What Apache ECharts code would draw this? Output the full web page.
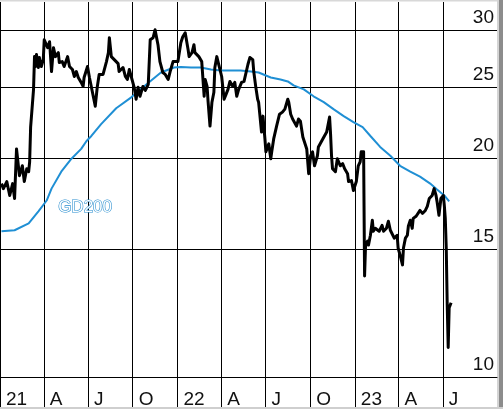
<!DOCTYPE html>
<html>
<head>
<meta charset="utf-8">
<script src="https://cdn.jsdelivr.net/npm/echarts@6/dist/echarts.min.js"></script>
<style>
html,body{margin:0;padding:0;background:#fff;}
#chart{width:503px;height:409px;}
</style>
</head>
<body>
<div id="chart"></div>
<script>
// ---- data (days since 2021-01-01, prices) ----
const startDate = Date.UTC(2021, 0, 1);
const priceDays = [3,7,14,20,26,30,34,40,46,50,55,59,61,63,67,69,71,73,75,79,81,85,89,91,98,102,106,110,114,120,122,128,132,139,143,149,153,157,161,167,171,173,180,184,188,196,200,204,212,219,223,225,229,235,243,245,253,258,262,266,270,276,280,284,288,294,299,305,309,315,319,325,329,335,340,346,350,356,360,366,372,376,381,385,387,389,395,399,401,405,409,415,420,422,426,428,432,436,440,442,446,450,456,461,465,469,473,479,483,487,491,497,502,506,510,514,520,522,526,530,532,534,538,541,545,547,551,553,557,559,563,569,575,581,586,592,594,598,602,606,610,614,618,623,627,631,635,639,643,647,653,655,659,664,668,672,676,678,680,682,684,690,694,696,700,705,709,715,717,723,727,733,737,741,743,748,750,752,756,758,762,766,768,772,776,780,786,789,795,799,803,807,811,817,819,823,828,830,834,838,840,844,848,850,856,860,864,869,871,875,879,883,889,893,897,899,903,907,912,914,916,918,920,922,924,928];
const priceValues = [18.44,18.15,18.56,17.76,18.44,17.59,20.58,18.91,19.51,18.56,19.33,19.15,19.76,22.05,22.05,24.85,27.56,26.71,27.74,26.63,27.48,26.71,27.30,29.07,28.35,28.89,26.29,28.35,27.56,27.91,27.05,27.13,26.71,27.56,26.71,26.46,25.88,26.29,25.80,25.40,25.08,25.80,26.71,25.80,25.88,23.56,25.01,26.05,26.05,27.13,27.91,29.26,27.56,27.30,26.96,26.29,26.63,25.88,25.64,26.46,26.46,25.01,24.08,25.01,24.31,25.08,24.77,25.24,29.07,29.26,30.00,28.62,27.13,26.21,26.05,25.64,26.29,27.13,27.05,27.13,28.80,29.35,29.72,29.81,28.17,27.56,27.91,28.62,27.91,28.00,27.56,27.13,24.31,25.64,25.08,23.93,22.12,23.86,24.62,26.63,27.56,26.88,25.88,24.08,24.46,24.85,25.48,25.08,25.40,24.31,24.85,25.40,25.48,25.40,26.88,27.48,27.30,26.29,25.08,24.08,23.86,23.12,21.71,22.83,21.24,20.39,20.45,20.91,19.95,20.39,21.24,22.12,22.97,23.12,23.34,24.08,23.86,22.97,22.62,22.76,22.12,22.62,22.47,21.37,21.24,20.58,19.03,20.14,20.39,19.51,20.14,20.71,20.58,21.24,21.37,21.71,22.40,22.76,21.58,20.14,19.33,19.15,19.95,20.07,19.51,19.64,19.33,19.03,18.56,18.62,18.04,18.56,19.51,19.76,20.39,20.39,13.77,15.18,15.37,15.18,15.66,16.42,15.86,16.01,16.11,15.86,16.16,15.86,16.01,16.37,15.91,16.01,15.52,15.66,15.04,14.71,14.26,15.04,15.52,15.66,16.11,16.42,16.01,16.52,16.63,16.68,16.94,16.78,16.68,16.94,17.16,17.59,17.76,18.15,17.76,17.43,16.68,17.59,17.76,17.21,16.52,15.04,12.57,10.98,12.45,12.65];
const maDays = [3,30,59,79,96,106,126,147,167,178,188,208,239,270,301,331,358,372,393,413,434,454,475,495,516,532,557,577,592,604,625,645,666,686,707,727,746,762,782,803,823,844,864,885,899,914,924];
const maValues = [15.86,15.91,16.26,16.89,17.48,18.15,19.15,19.95,20.58,21.10,21.44,22.26,23.41,24.23,25.24,26.21,26.63,26.67,26.63,26.63,26.46,26.38,26.38,26.38,26.29,26.21,25.80,25.64,25.48,25.16,24.85,24.31,23.86,23.34,22.83,22.40,22.05,21.44,20.71,20.14,19.51,19.15,18.85,18.44,18.10,17.76,17.43];
const yTicks = [10, 15, 20, 25, 30];
const xTickDates = ['2021-01-01','2021-04-01','2021-07-01','2021-10-01','2022-01-01','2022-04-01','2022-07-01','2022-10-01','2023-01-01','2023-04-01','2023-07-01'];
const xTickLabels = ['21','A','J','O','22','A','J','O','23','A','J'];
const maLabel = 'GD200';
const maLabelAt = [175, 17.13];

// ---- build ----
const DAY = 86400000;
const priceData = priceDays.map((d, i) => [d, priceValues[i]]);
const maData = maDays.map((d, i) => [d, maValues[i]]);
const xTickDays = xTickDates.map(s => Math.round((Date.parse(s + 'T00:00:00Z') - startDate) / DAY));
const labelMap = {};
xTickDays.forEach((t, i) => { labelMap[t] = xTickLabels[i]; });

const chart = echarts.init(document.getElementById('chart'), null, {renderer: 'canvas'});
const FONT = '"Liberation Sans", Arial, sans-serif';
chart.setOption({
  animation: false,
  backgroundColor: '#fff',
  grid: {left: -1.6, right: 6, top: 2, bottom: 31, containLabel: false},
  xAxis: {
    type: 'value',
    min: 0,
    max: 1022.4,
    axisLine: {show: true, lineStyle: {color: '#000', width: 1}},
    axisTick: {show: true, customValues: xTickDays, length: 30, lineStyle: {color: '#000', width: 1}},
    splitLine: {show: true, lineStyle: {color: '#000', width: 1}},
    axisLabel: {
      show: true, customValues: xTickDays, hideOverlap: false,
      formatter: v => labelMap[Math.round(v)] || '',
      align: 'left', padding: [0, 0, 0, 6], margin: 13,
      fontFamily: FONT, fontSize: 19, color: '#111'
    }
  },
  yAxis: {
    type: 'log', logBase: 10, position: 'right',
    min: 10, max: 32.76,
    axisLine: {show: false},
    axisTick: {show: false, customValues: yTicks},
    splitLine: {show: true, lineStyle: {color: '#000', width: 1}},
    axisLabel: {
      show: true, inside: true, customValues: yTicks,
      showMinLabel: true, showMaxLabel: true,
      align: 'right', verticalAlign: 'bottom', padding: [0, 0, 3, 0], margin: 3,
      fontFamily: FONT, fontSize: 19, color: '#111'
    }
  },
  series: [
    {
      name: 'GD200', type: 'line', data: maData, showSymbol: false, symbol: 'none',
      lineStyle: {color: '#1f8fd4', width: 2}, z: 3,
      markPoint: {
        symbol: 'circle', symbolSize: 0,
        data: [{coord: [maLabelAt[0], maLabelAt[1]]}],
        label: {show: true, position: 'inside', formatter: maLabel, color: '#fff',
          textBorderColor: '#2b8fcf', textBorderWidth: 1.2, fontFamily: FONT, fontSize: 17}
      }
    },
    {
      name: 'Kurs', type: 'line', data: priceData, showSymbol: false, symbol: 'none',
      lineStyle: {color: '#000', width: 3, join: 'round'}, z: 4
    }
  ],
  graphic: [
    {type: 'rect', shape: {x: 0, y: 0, width: 503, height: 1.5}, style: {fill: '#d8d8d8'}, silent: true},
    {type: 'rect', shape: {x: 497, y: 0, width: 2, height: 409}, style: {fill: '#d4d4d4'}, silent: true},
    {type: 'rect', shape: {x: 499, y: 0, width: 4, height: 409}, style: {fill: '#8c8c8c'}, silent: true},
    {type: 'rect', shape: {x: 0, y: 407, width: 503, height: 2}, style: {fill: '#cfcfcf'}, silent: true}
  ]
});
</script>
</body>
</html>
